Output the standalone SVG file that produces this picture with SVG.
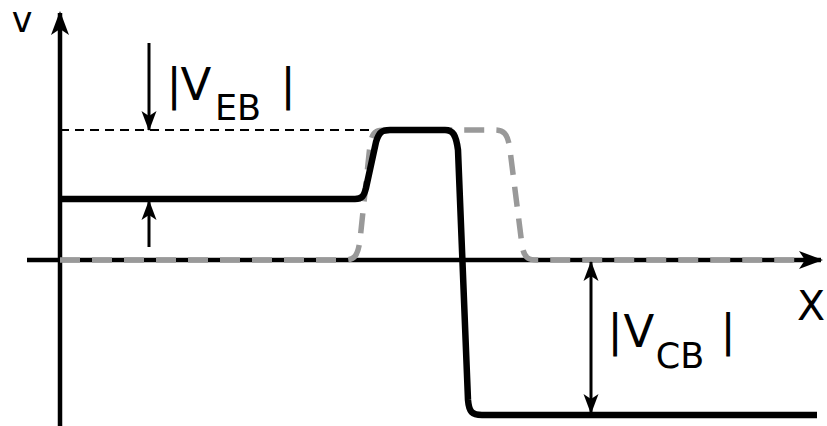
<svg xmlns="http://www.w3.org/2000/svg" width="827" height="426" viewBox="0 0 827 426">
<style>
.t{font-family:"DejaVu Sans",sans-serif;fill:#000;text-anchor:middle}
.big{font-size:45px}
.sub{font-size:35px}
.ax{stroke:#000;stroke-width:4.5;fill:none}
.ar{stroke:#000;stroke-width:3;fill:none}
</style>
<defs>
<marker id="ah" viewBox="0 0 24 20" refX="22" refY="10" markerWidth="24" markerHeight="20" markerUnits="userSpaceOnUse" orient="auto">
<path d="M0,1 L24,10 L0,19 L6,10 Z" fill="#000"/>
</marker>
<marker id="sh" viewBox="0 0 20 16" refX="19" refY="8" markerWidth="20" markerHeight="16" markerUnits="userSpaceOnUse" orient="auto-start-reverse">
<path d="M0,0.5 L20,8 L0,15.5 L5,8 Z" fill="#000"/>
</marker>
</defs>
<g id="axes">
<line class="ax" x1="60" y1="426" x2="60" y2="13" marker-end="url(#ah)"/>
<line class="ax" x1="27" y1="260" x2="821" y2="260" marker-end="url(#ah)"/>
</g>
<g id="connectors">
<line x1="60" y1="130" x2="385" y2="130" stroke="#000" stroke-width="2" stroke-dasharray="9 6"/>
<path d="M60,260 H345 C355,260 358,255 360,240 L370,145 C372,133 375,130 385,130 H495 C505,130 508,135 510,150 L522,245 C524,257 527,260 537,260 H802" fill="none" stroke="#999" stroke-width="5.5" stroke-dasharray="20 12"/>
<path d="M60,199 H355 C362,199 364,196 366,188 L376,142 C379,132 382,130 390,130 H445 C453,130 456,135 458,150 L468,400 C469,412 472,415 482,415 H817" fill="none" stroke="#000" stroke-width="6.5"/>
<line class="ar" x1="149" y1="43" x2="149" y2="130" marker-end="url(#sh)"/>
<line class="ar" x1="149" y1="247" x2="149" y2="201" marker-end="url(#sh)"/>
<line class="ar" x1="591" y1="262" x2="591" y2="413" marker-start="url(#sh)" marker-end="url(#sh)"/>
</g>
<g id="labels">
<text class="t" x="22" y="32" font-size="35">v</text>
<text class="t" x="811" y="320" font-size="41">X</text>
<text class="t big" x="174" y="100">|</text>
<text class="t big" x="196" y="100">V</text>
<text class="t sub" x="238" y="120">EB</text>
<text class="t big" x="288" y="100">|</text>
<text class="t big" x="615" y="346">|</text>
<text class="t big" x="639" y="347">V</text>
<text class="t sub" x="680" y="368">CB</text>
<text class="t big" x="728" y="346">|</text>
</g>
</svg>
